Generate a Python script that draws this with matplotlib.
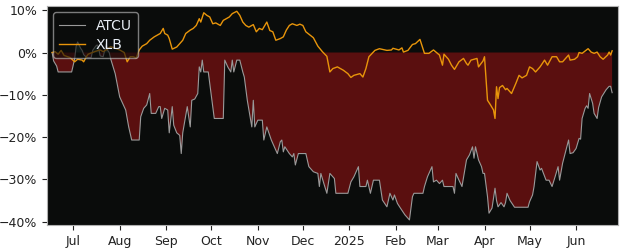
import matplotlib
matplotlib.use("Agg")
import matplotlib.pyplot as plt
from matplotlib.ticker import PercentFormatter
import numpy as np
import pandas as pd

# ---- data (cumulative % change) ----
atcu_dates = [
    "2024-06-17", "2024-06-18", "2024-06-20", "2024-06-21", "2024-06-30", "2024-07-02",
    "2024-07-03", "2024-07-04", "2024-07-06", "2024-07-07", "2024-07-08", "2024-07-10",
    "2024-07-13", "2024-07-14", "2024-07-16", "2024-07-17", "2024-07-18", "2024-07-19",
    "2024-07-21", "2024-07-22", "2024-07-23", "2024-07-24", "2024-07-25", "2024-07-26",
    "2024-07-29", "2024-08-01", "2024-08-05", "2024-08-07", "2024-08-09", "2024-08-14",
    "2024-08-15", "2024-08-17", "2024-08-19", "2024-08-21", "2024-08-22", "2024-08-25",
    "2024-08-27", "2024-08-28", "2024-08-29", "2024-08-31", "2024-09-02", "2024-09-03",
    "2024-09-05", "2024-09-06", "2024-09-08", "2024-09-10", "2024-09-11", "2024-09-12",
    "2024-09-15", "2024-09-17", "2024-09-18", "2024-09-20", "2024-09-22", "2024-09-23",
    "2024-09-24", "2024-09-25", "2024-09-26", "2024-09-29", "2024-10-03", "2024-10-09",
    "2024-10-10", "2024-10-12", "2024-10-14", "2024-10-15", "2024-10-16", "2024-10-18",
    "2024-10-20", "2024-10-22", "2024-10-23", "2024-10-25", "2024-10-28", "2024-10-29",
    "2024-10-30", "2024-11-01", "2024-11-04", "2024-11-05", "2024-11-07", "2024-11-10",
    "2024-11-12", "2024-11-14", "2024-11-16", "2024-11-17", "2024-11-18", "2024-11-19",
    "2024-11-22", "2024-11-24", "2024-11-25", "2024-11-26", "2024-11-28", "2024-12-03",
    "2024-12-05", "2024-12-08", "2024-12-11", "2024-12-12", "2024-12-13", "2024-12-15",
    "2024-12-17", "2024-12-19", "2024-12-22", "2024-12-23", "2024-12-31", "2025-01-02",
    "2025-01-04", "2025-01-07", "2025-01-08", "2025-01-12", "2025-01-13", "2025-01-15",
    "2025-01-17", "2025-01-21", "2025-01-23", "2025-01-26", "2025-01-28", "2025-01-30",
    "2025-01-31", "2025-02-02", "2025-02-04", "2025-02-07", "2025-02-10", "2025-02-12",
    "2025-02-13", "2025-02-19", "2025-02-20", "2025-02-22", "2025-02-25", "2025-02-26",
    "2025-02-28", "2025-03-02", "2025-03-04", "2025-03-05", "2025-03-11", "2025-03-12",
    "2025-03-13", "2025-03-15", "2025-03-17", "2025-03-20", "2025-03-22", "2025-03-24",
    "2025-03-25", "2025-03-26", "2025-03-28", "2025-03-30", "2025-03-31", "2025-04-01",
    "2025-04-03", "2025-04-04", "2025-04-06", "2025-04-08", "2025-04-09", "2025-04-10",
    "2025-04-12", "2025-04-14", "2025-04-15", "2025-04-16", "2025-04-18", "2025-04-21",
    "2025-04-30", "2025-05-01", "2025-05-03", "2025-05-04", "2025-05-06", "2025-05-08",
    "2025-05-09", "2025-05-12", "2025-05-14", "2025-05-16", "2025-05-18", "2025-05-20",
    "2025-05-21", "2025-05-23", "2025-05-25", "2025-05-27", "2025-05-28", "2025-05-30",
    "2025-06-01", "2025-06-03", "2025-06-04", "2025-06-05", "2025-06-07", "2025-06-08",
    "2025-06-09", "2025-06-10", "2025-06-12", "2025-06-13", "2025-06-15", "2025-06-16",
    "2025-06-18", "2025-06-21", "2025-06-23", "2025-06-24", "2025-06-25",
]
atcu_values = [
    0.0, -2.0, -3.2, -4.6, -4.6, -1.5,
    1.5, 2.5, 1.0, 0.5, -0.5, -1.2,
    -1.2, 0.5, 1.5, 1.8, 1.0, -0.8,
    -1.0, 0.5, 2.0, 0.5, 0.0, -1.5,
    -5.0, -10.5, -13.6, -17.6, -20.7, -20.7,
    -15.2, -13.2, -12.4, -9.7, -14.4, -14.4,
    -12.8, -12.8, -15.6, -13.2, -13.6, -19.0,
    -12.8, -17.2, -19.0, -19.6, -23.9, -19.0,
    -12.8, -17.6, -11.3, -11.0, -9.7, -3.4,
    -4.6, -1.8, -4.6, -4.6, -15.6, -15.6,
    -1.8, -3.4, -4.6, -1.8, -4.6, -1.8,
    -1.8, -4.6, -5.8, -11.3, -17.6, -11.3,
    -17.6, -16.0, -16.0, -20.7, -17.6, -20.7,
    -22.3, -23.9, -21.1, -20.7, -23.5, -22.3,
    -23.9, -24.7, -23.9, -26.6, -23.9, -23.9,
    -27.0, -28.2, -28.6, -31.7, -28.6, -31.0,
    -33.3, -28.6, -29.8, -33.3, -33.3, -30.6,
    -29.4, -27.0, -31.7, -31.7, -30.2, -33.3,
    -30.2, -30.2, -34.9, -36.5, -33.3, -34.9,
    -33.7, -35.7, -36.8, -38.4, -39.6, -34.1,
    -33.3, -33.3, -31.7, -29.4, -27.0, -30.6,
    -30.2, -31.0, -30.2, -31.7, -31.7, -33.3,
    -28.6, -30.2, -31.7, -25.4, -24.2, -22.3,
    -25.0, -22.3, -25.4, -27.0, -28.6, -28.6,
    -34.1, -38.0, -36.8, -32.1, -35.0, -36.5,
    -35.5, -36.5, -35.5, -33.3, -35.0, -36.6,
    -36.6, -35.3, -33.7, -31.7, -25.8, -27.8,
    -27.4, -30.2, -30.2, -31.7, -29.4, -27.0,
    -30.2, -26.2, -23.5, -20.7, -23.9, -23.7,
    -22.7, -20.3, -20.5, -15.6, -13.2, -12.6,
    -13.2, -9.7, -12.0, -14.4, -15.6, -13.0,
    -10.5, -8.8, -8.0, -8.0, -9.5,
]

xlb_dates = [
    "2024-06-17", "2024-06-19", "2024-06-21", "2024-06-23", "2024-06-25", "2024-06-29",
    "2024-07-02", "2024-07-04", "2024-07-07", "2024-07-08", "2024-07-10", "2024-07-11",
    "2024-07-13", "2024-07-17", "2024-07-19", "2024-07-21", "2024-07-23", "2024-07-26",
    "2024-07-29", "2024-08-01", "2024-08-04", "2024-08-06", "2024-08-08", "2024-08-10",
    "2024-08-12", "2024-08-14", "2024-08-16", "2024-08-19", "2024-08-21", "2024-08-24",
    "2024-08-26", "2024-08-28", "2024-08-30", "2024-08-31", "2024-09-02", "2024-09-03",
    "2024-09-05", "2024-09-08", "2024-09-10", "2024-09-12", "2024-09-14", "2024-09-17",
    "2024-09-19", "2024-09-21", "2024-09-23", "2024-09-24", "2024-09-26", "2024-09-28",
    "2024-09-30", "2024-10-02", "2024-10-04", "2024-10-07", "2024-10-09", "2024-10-11",
    "2024-10-13", "2024-10-15", "2024-10-18", "2024-10-20", "2024-10-22", "2024-10-24",
    "2024-10-26", "2024-10-29", "2024-10-31", "2024-11-02", "2024-11-04", "2024-11-07",
    "2024-11-09", "2024-11-11", "2024-11-13", "2024-11-16", "2024-11-18", "2024-11-20",
    "2024-11-22", "2024-11-24", "2024-11-27", "2024-11-29", "2024-12-01", "2024-12-03",
    "2024-12-08", "2024-12-11", "2024-12-14", "2024-12-17", "2024-12-19", "2024-12-21",
    "2024-12-24", "2024-12-28", "2024-12-31", "2025-01-02", "2025-01-04", "2025-01-08",
    "2025-01-10", "2025-01-12", "2025-01-14", "2025-01-18", "2025-01-21", "2025-01-26",
    "2025-01-29", "2025-01-30", "2025-02-03", "2025-02-05", "2025-02-06", "2025-02-09",
    "2025-02-12", "2025-02-14", "2025-02-17", "2025-02-20", "2025-02-23", "2025-02-26",
    "2025-02-28", "2025-03-02", "2025-03-04", "2025-03-05", "2025-03-08", "2025-03-10",
    "2025-03-12", "2025-03-15", "2025-03-18", "2025-03-20", "2025-03-21", "2025-03-23",
    "2025-03-27", "2025-03-28", "2025-03-31", "2025-04-01", "2025-04-03", "2025-04-05",
    "2025-04-07", "2025-04-08", "2025-04-09", "2025-04-10", "2025-04-11", "2025-04-13",
    "2025-04-15", "2025-04-16", "2025-04-19", "2025-04-22", "2025-04-24", "2025-04-26",
    "2025-04-29", "2025-05-01", "2025-05-03", "2025-05-05", "2025-05-08", "2025-05-11",
    "2025-05-13", "2025-05-16", "2025-05-19", "2025-05-21", "2025-05-23", "2025-05-25",
    "2025-05-27", "2025-05-28", "2025-05-31", "2025-06-02", "2025-06-03", "2025-06-05",
    "2025-06-09", "2025-06-11", "2025-06-13", "2025-06-15", "2025-06-17", "2025-06-19",
    "2025-06-22", "2025-06-23", "2025-06-24", "2025-06-25",
]
xlb_values = [
    0.0, 0.2, -0.4, 0.5, -0.7, -1.2,
    -2.2, -1.6, -1.8, -2.2, -0.9, -0.4,
    -0.1, 0.4, 0.6, 0.2, 0.6, 1.4,
    1.0, 0.6, 0.0, -2.2, -1.0, -1.0,
    -1.3, 0.6, 1.5, 2.1, 2.9, 3.7,
    4.1, 4.5, 5.7, 4.5, 4.1, 3.3,
    0.8, 1.3, 2.1, 2.9, 4.5, 5.3,
    5.7, 6.4, 8.0, 7.2, 9.4, 8.8,
    8.4, 6.8, 7.0, 6.4, 7.6, 8.0,
    8.4, 9.2, 9.75, 8.8, 7.2, 6.4,
    6.0, 6.6, 4.9, 5.7, 5.4, 7.2,
    5.2, 4.9, 2.9, 3.3, 3.7, 5.3,
    6.4, 6.8, 6.4, 6.7, 6.4, 4.9,
    3.5, 1.5, 0.2, -0.9, -4.6, -3.8,
    -3.4, -4.2, -5.0, -5.9, -5.4, -5.0,
    -5.8, -3.8, -1.0, 0.5, 0.9, 0.5,
    0.6, 1.0, 0.6, 1.1, 0.1, 0.5,
    1.9, 2.1, 3.1, -0.2, -0.2, 0.6,
    0.0, -0.6, -3.0, -0.4, -1.6, -3.0,
    -4.0, -2.2, -1.4, -2.6, -3.0, -1.8,
    -1.4, -3.4, -2.0, -1.0, -11.3, -12.4,
    -13.6, -15.6, -8.1, -10.9, -8.3, -7.8,
    -8.8, -8.5, -9.7, -7.2, -5.4, -6.0,
    -5.4, -3.4, -3.8, -4.6, -3.4, -1.8,
    -3.0, -1.0, -1.0, -2.2, -2.2, -1.4,
    -0.6, -1.8, -1.6, -1.0, 0.0, -0.2,
    0.9, 0.1, -0.2, 0.1, -1.0, -1.6,
    -0.6, 0.1, -0.6, 0.4,
]

tick_dates = ["2024-07-01", "2024-08-01", "2024-09-01", "2024-10-01", "2024-11-01",
              "2024-12-01", "2025-01-01", "2025-02-01", "2025-03-01", "2025-04-01",
              "2025-05-01", "2025-06-01"]
tick_labels = ["Jul", "Aug", "Sep", "Oct", "Nov", "Dec", "2025", "Feb", "Mar", "Apr",
               "May", "Jun"]
y_ticks = [10, 0, -10, -20, -30, -40]

# ---- plot ----
ad = pd.to_datetime(atcu_dates)
av = np.array(atcu_values)
xd = pd.to_datetime(xlb_dates)
xv = np.array(xlb_values)

fig = plt.figure(figsize=(6.25, 2.5), dpi=100)
ax = fig.add_axes([0.075, 0.10, 0.914, 0.876])
ax.set_facecolor("#0a0c0b")

ax.fill_between(ad, av, 0, where=av <= 0, interpolate=True, color="#5a0f0f", lw=0)
ax.fill_between(ad, av, 0, where=av >= 0, interpolate=True, color="#16302c", lw=0)
ax.plot(ad, av, color="#9a9a9a", lw=0.8, label="ATCU")
ax.plot(xd, xv, color="#e8950a", lw=1.0, label="XLB")

ax.set_xlim(pd.Timestamp("2024-06-13 12:00"), pd.Timestamp("2025-06-29"))
ax.set_ylim(-40.8, 11.0)
ax.set_xticks(pd.to_datetime(tick_dates))
ax.set_xticklabels(tick_labels)
ax.set_yticks(y_ticks)
ax.yaxis.set_major_formatter(PercentFormatter(xmax=100, decimals=0))
ax.tick_params(labelsize=9, colors="#222222", length=3.5, width=0.8)
for s in ax.spines.values():
    s.set_color("#b0b0b0")
    s.set_linewidth(0.8)

leg = ax.legend(loc="upper left", fontsize=10, frameon=True, facecolor="#0a0c0b",
                edgecolor="#c8c8c8", framealpha=0.6, labelcolor="#e8eef5",
                borderpad=0.45, labelspacing=0.37, handlelength=1.85,
                handletextpad=0.75, borderaxespad=0.45)

fig.savefig("out.png", dpi=100)
